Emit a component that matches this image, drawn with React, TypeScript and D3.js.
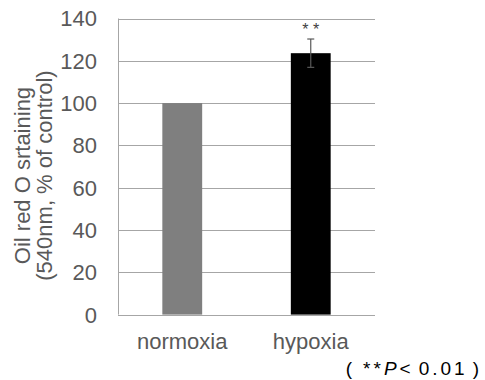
import React from 'react';
import * as d3 from 'd3';

const categories = ['normoxia', 'hypoxia'];
const values = [100, 123.6];
const errors = [0, 6.7];
const barColors = ['#7f7f7f', '#000000'];
const yTicks = [0, 20, 40, 60, 80, 100, 120, 140];
const signif = ['', '* *'];

const App = () => {
  const width = 485;
  const height = 380;
  const margin = { top: 18.5, right: 110, bottom: 65.4, left: 118 };

  //scales
  const x = d3
    .scaleBand()
    .domain(categories)
    .range([margin.left, width - margin.right])
    .paddingInner(0.69)
    .paddingOuter(0.345);

  const y = d3
    .scaleLinear()
    .domain([0, 140])
    .range([height - margin.bottom, margin.top]);

  const font = 'Liberation Sans, Arial, sans-serif';
  const gridColor = '#a6a6a6';
  const textColor = '#595959';

  return (
    <svg
      width={width}
      height={height}
      style={{ position: 'absolute', left: 0, top: 0, background: '#fff' }}
      fontFamily={font}
    >
      {/* gridlines */}
      {yTicks.map((t) => (
        <line
          key={t}
          x1={margin.left}
          x2={width - margin.right}
          y1={Math.round(y(t)) + 0.5}
          y2={Math.round(y(t)) + 0.5}
          stroke={gridColor}
          strokeWidth={1}
        />
      ))}
      <line
        x1={margin.left + 0.5}
        x2={margin.left + 0.5}
        y1={y(140)}
        y2={y(0)}
        stroke={gridColor}
      />

      {/* tick labels */}
      {yTicks.map((t) => (
        <text
          key={t}
          x={97}
          y={y(t)}
          dy="0.36em"
          textAnchor="end"
          fontSize={22}
          fill={textColor}
        >
          {t}
        </text>
      ))}

      {/* bars */}
      {categories.map((c, i) => (
        <rect
          key={c}
          x={x(c)}
          y={y(values[i])}
          width={x.bandwidth()}
          height={y(0) - y(values[i])}
          fill={barColors[i]}
        />
      ))}

      {/* error bars */}
      {categories.map((c, i) =>
        errors[i] > 0 ? (
          <g key={c} stroke={textColor} strokeWidth={1.2}>
            <line
              x1={x(c)! + x.bandwidth() / 2}
              x2={x(c)! + x.bandwidth() / 2}
              y1={y(values[i] + errors[i])}
              y2={y(values[i] - errors[i])}
            />
            <line
              x1={x(c)! + x.bandwidth() / 2 - 3.5}
              x2={x(c)! + x.bandwidth() / 2 + 3.5}
              y1={y(values[i] + errors[i])}
              y2={y(values[i] + errors[i])}
            />
            <line
              x1={x(c)! + x.bandwidth() / 2 - 3.5}
              x2={x(c)! + x.bandwidth() / 2 + 3.5}
              y1={y(values[i] - errors[i])}
              y2={y(values[i] - errors[i])}
            />
          </g>
        ) : null
      )}

      {/* significance */}
      {categories.map((c, i) =>
        signif[i] ? (
          <text
            key={c}
            x={x(c)! + x.bandwidth() / 2}
            y={y(values[i] + errors[i]) - 4}
            textAnchor="middle"
            fontSize={16}
            fill="#404040"
          >
            {signif[i]}
          </text>
        ) : null
      )}

      {/* category labels */}
      {categories.map((c) => (
        <text
          key={c}
          x={x(c)! + x.bandwidth() / 2}
          y={349}
          textAnchor="middle"
          fontSize={22}
          fill={textColor}
        >
          {c}
        </text>
      ))}

      {/* y axis title */}
      <text
        transform={`translate(30,${(y(140) + y(0)) / 2 + 9}) rotate(-90)`}
        textAnchor="middle"
        fontSize={22}
        fill={textColor}
      >
        Oil red O srtaining
      </text>
      <text
        transform={`translate(52,${(y(140) + y(0)) / 2 + 9}) rotate(-90)`}
        textAnchor="middle"
        fontSize={22}
        fill={textColor}
      >
        (540nm, % of control)
      </text>

      {/* p value note */}
      <text x={482} y={375} textAnchor="end" fontSize={19} fill="#000" letterSpacing={3}>
        (<tspan dx={8}>**</tspan>
        <tspan fontStyle="italic">P</tspan>
        <tspan>&lt;</tspan>
        <tspan dx={5}>0.01</tspan>
        <tspan dx={5}>)</tspan>
      </text>
    </svg>
  );
};

export default App;
